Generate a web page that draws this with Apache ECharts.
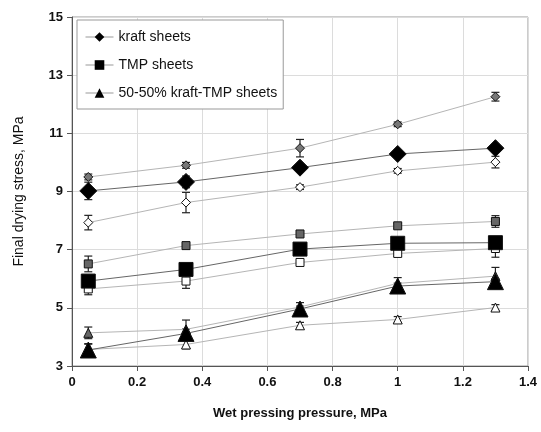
<!DOCTYPE html>
<html>
<head>
<meta charset="utf-8">
<script src="https://cdn.jsdelivr.net/npm/echarts@6/dist/echarts.min.js"></script>
<style>
  html, body { margin: 0; padding: 0; background: #fff; }
  #main { width: 541px; height: 432px; }
</style>
</head>
<body>
<div id="main"></div>
<script>
var pressure = [0.05, 0.35, 0.7, 1.0, 1.3]

// kraft sheets
var kraft = [9.02, 9.33, 9.82, 10.29, 10.49]
var kraftErr = [0.3, 0.2, 0.1, 0.1, 0.1]
var kraftHigh = [9.5, 9.9, 10.49, 11.31, 12.26]
var kraftHighErr = [0.1, 0.1, 0.3, 0.08, 0.15]
var kraftLow = [7.93, 8.62, 9.15, 9.71, 10.01]
var kraftLowErr = [0.25, 0.35, 0.08, 0.08, 0.2]

// TMP sheets
var tmp = [5.92, 6.32, 7.02, 7.22, 7.24]
var tmpErr = [0.2, 0.2, 0.1, 0.1, 0.2]
var tmpHigh = [6.51, 7.14, 7.54, 7.82, 7.97]
var tmpHighErr = [0.27, 0.08, 0.08, 0.08, 0.2]
var tmpLow = [5.65, 5.92, 6.56, 6.87, 7.04]
var tmpLowErr = [0.2, 0.25, 0.08, 0.1, 0.3]

// 50-50% kraft-TMP sheets
var mix = [3.55, 4.12, 4.96, 5.75, 5.9]
var mixErr = [0.2, 0.15, 0.1, 0.1, 0.1]
var mixHigh = [4.14, 4.26, 5.03, 5.84, 6.09]
var mixHighErr = [0.2, 0.32, 0.15, 0.2, 0.3]
var mixLow = [3.57, 3.74, 4.4, 4.6, 5.01]
var mixLowErr = [0.2, 0.15, 0.1, 0.1, 0.1]

function pts(ys) {
  return pressure.map(function(x, i) { return [x, ys[i]] })
}

function errData(ys, es) {
  return pressure.map(function(x, i) { return [x, ys[i] - es[i], ys[i] + es[i]] })
}

function errSeries(ys, es) {
  return {
    type: 'custom',
    silent: true,
    z: 1,
    data: errData(ys, es),
    renderItem: function(params, api) {
      var lo = api.coord([api.value(0), api.value(1)])
      var hi = api.coord([api.value(0), api.value(2)])
      var w = 4
      var st = {stroke: '#222', lineWidth: 1.2}
      return {
        type: 'group',
        children: [
          {type: 'line', shape: {x1: lo[0], y1: lo[1], x2: hi[0], y2: hi[1]}, style: st},
          {type: 'line', shape: {x1: lo[0] - w, y1: lo[1], x2: lo[0] + w, y2: lo[1]}, style: st},
          {type: 'line', shape: {x1: hi[0] - w, y1: hi[1], x2: hi[0] + w, y2: hi[1]}, style: st}
        ]
      }
    }
  }
}

function lineSeries(name, ys, symbol, size, fill, lineColor, z) {
  return {
    name: name,
    type: 'line',
    data: pts(ys),
    symbol: symbol,
    symbolSize: size,
    showAllSymbol: true,
    z: z,
    lineStyle: {color: lineColor, width: 1},
    itemStyle: {color: fill, borderColor: '#111', borderWidth: 1, opacity: 1}
  }
}

var dark = '#666'
var light = '#b5b5b5'
var series = [
  errSeries(kraft, kraftErr), errSeries(kraftHigh, kraftHighErr), errSeries(kraftLow, kraftLowErr),
  errSeries(tmp, tmpErr), errSeries(tmpHigh, tmpHighErr), errSeries(tmpLow, tmpLowErr),
  errSeries(mix, mixErr), errSeries(mixHigh, mixHighErr), errSeries(mixLow, mixLowErr),
  lineSeries('kraft high', kraftHigh, 'diamond', 9, '#777', light, 3),
  lineSeries('kraft low', kraftLow, 'diamond', 9, '#fff', light, 3),
  lineSeries('tmp high', tmpHigh, 'rect', 8, '#666', light, 3),
  lineSeries('tmp low', tmpLow, 'rect', 8, '#fff', light, 3),
  lineSeries('mix high', mixHigh, 'triangle', 9, '#666', light, 3),
  lineSeries('mix low', mixLow, 'triangle', 9, '#fff', light, 3),
  lineSeries('kraft sheets', kraft, 'diamond', 17, '#000', dark, 4),
  lineSeries('TMP sheets', tmp, 'rect', 14, '#000', dark, 4),
  lineSeries('50-50% kraft-TMP sheets', mix, 'triangle', 16, '#000', dark, 4)
]

var font = 'Liberation Sans, Arial, sans-serif'
var myChart = echarts.init(document.getElementById('main'))
var option = {
  animation: false,
  backgroundColor: '#fff',
  grid: {
    left: 72,
    right: 13,
    top: 17,
    bottom: 66,
    show: true,
    borderColor: '#999',
    borderWidth: 1
  },
  legend: {
    data: ['kraft sheets', 'TMP sheets', '50-50% kraft-TMP sheets'],
    orient: 'vertical',
    left: 77,
    top: 20,
    padding: [10, 6, 9, 8],
    itemGap: 14,
    itemWidth: 28,
    itemHeight: 12,
    backgroundColor: '#fff',
    borderColor: '#999',
    borderWidth: 1,
    borderRadius: 0,
    textStyle: {fontFamily: font, fontSize: 14, color: '#111'},
    itemStyle: {color: '#000', borderWidth: 0},
    lineStyle: {color: '#999', width: 1}
  },
  xAxis: {
    type: 'value',
    min: 0,
    max: 1.4,
    interval: 0.2,
    name: 'Wet pressing pressure, MPa',
    nameLocation: 'middle',
    nameGap: 41,
    nameTextStyle: {fontFamily: font, fontSize: 13, fontWeight: 'bold', color: '#111'},
    axisLine: {lineStyle: {color: '#555', width: 1}},
    axisTick: {show: true, length: 5, lineStyle: {color: '#555'}},
    axisLabel: {fontFamily: font, fontSize: 13, fontWeight: 'bold', color: '#111', margin: 10},
    splitLine: {show: true, lineStyle: {color: '#dcdcdc', width: 1}}
  },
  yAxis: {
    type: 'value',
    min: 3,
    max: 15,
    interval: 2,
    name: 'Final drying stress, MPa',
    nameLocation: 'middle',
    nameGap: 46,
    nameTextStyle: {fontFamily: font, fontSize: 14, color: '#111'},
    axisLine: {show: true, lineStyle: {color: '#555', width: 1}},
    axisTick: {show: true, length: 5, lineStyle: {color: '#555'}},
    axisLabel: {fontFamily: font, fontSize: 13, fontWeight: 'bold', color: '#111', margin: 9},
    splitLine: {show: true, lineStyle: {color: '#dcdcdc', width: 1}}
  },
  series: series
}
myChart.setOption(option)
</script>
</body>
</html>
